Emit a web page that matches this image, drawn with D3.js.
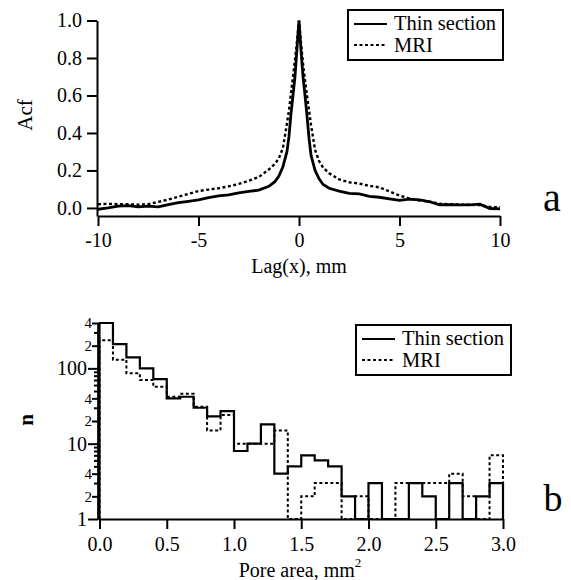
<!DOCTYPE html>
<html>
<head>
<meta charset="utf-8">
<script src="https://cdn.jsdelivr.net/npm/d3@7"></script>
<style>
  body { margin: 0; background: #fff; }
  svg text { font-family: "Liberation Serif", "DejaVu Serif", serif !important; fill: #000; }
  .axis path, .axis line { stroke: #000; stroke-width: 2; }
</style>
</head>
<body>
<script>
// ---- data ------------------------------------------------------------------
// panel a: autocorrelation vs lag (mm)
var lagX = [-10, -9.5, -9, -8.5, -8, -7.5, -7, -6.5, -6, -5.5, -5, -4.5, -4,
    -3.5, -3, -2.5, -2, -1.5, -1.2, -1, -0.8, -0.6, -0.5, -0.4, -0.3, -0.2,
    -0.1, 0, 0.1, 0.2, 0.3, 0.4, 0.5, 0.6, 0.8, 1, 1.2, 1.5, 2, 2.5, 3, 3.5,
    4, 4.5, 5, 5.5, 6, 6.5, 7, 7.5, 8, 8.5, 9, 9.5, 10];
var thinAcf = [-0.007, 0.0, 0.01, 0.012, 0.006, 0.01, 0.006, 0.018, 0.028,
    0.035, 0.043, 0.055, 0.064, 0.07, 0.08, 0.088, 0.095, 0.115, 0.14, 0.17,
    0.22, 0.3, 0.38, 0.5, 0.6, 0.7, 0.85, 1.0, 0.84, 0.7, 0.6, 0.49, 0.37,
    0.28, 0.2, 0.155, 0.125, 0.105, 0.09, 0.078, 0.075, 0.062, 0.057, 0.048,
    0.04, 0.047, 0.043, 0.033, 0.017, 0.018, 0.016, 0.016, 0.02, -0.003,
    -0.005];
var mriAcf = [0.02, 0.022, 0.02, 0.02, 0.017, 0.02, 0.032, 0.045, 0.06, 0.075,
    0.09, 0.098, 0.105, 0.115, 0.128, 0.145, 0.165, 0.205, 0.235, 0.265, 0.32,
    0.45, 0.52, 0.61, 0.7, 0.79, 0.89, 1.0, 0.88, 0.77, 0.68, 0.6, 0.52, 0.44,
    0.31, 0.25, 0.215, 0.185, 0.152, 0.137, 0.13, 0.118, 0.11, 0.088, 0.066,
    0.05, 0.04, 0.034, 0.022, 0.02, 0.018, 0.017, 0.015, 0.005, 0.004];
var acfTicks = [0, 0.2, 0.4, 0.6, 0.8, 1.0];
var lagTicks = [-10, -5, 0, 5, 10];

// panel b: pore-area histogram, bins of 0.1 mm^2 (left edges)
var binWidth = 0.1;
var poreArea = [0.0, 0.1, 0.2, 0.3, 0.4, 0.5, 0.6, 0.7, 0.8, 0.9, 1.0, 1.1,
    1.2, 1.3, 1.4, 1.5, 1.6, 1.7, 1.8, 1.9, 2.0, 2.1, 2.2, 2.3, 2.4, 2.5, 2.6,
    2.7, 2.8, 2.9];
var thinCount = [400, 210, 140, 100, 72, 40, 42, 30, 23, 27, 8, 10, 18, 4, 5,
    7, 6, 5, 2, 1, 3, 1, 1, 3, 2, 1, 3, 1, 2, 3];
var mriCount = [236, 130, 86, 70, 57, 42, 46, 31, 15, 24, 10, 10, 10, 15, 1,
    2, 3, 3, 1, 2, 1, 1, 3, 3, 3, 3, 4, 2, 1, 7];
var areaTicks = [0, 0.5, 1.0, 1.5, 2.0, 2.5, 3.0];
var nMajor = [1, 10, 100];
var nLabelled = [2, 4, 20, 40, 200, 400];
var nMinor = [3, 5, 6, 7, 8, 9, 30, 50, 60, 70, 80, 90, 300];

var seriesNames = ["Thin section", "MRI"];

// ---- drawing -----------------------------------------------------------------
var W = 571, H = 580;
var serif = "Liberation Serif";
var svg = d3.select("body").append("svg")
    .attr("width", W)
    .attr("height", H)
    .attr("font-family", serif);

// dash pattern for the MRI curves
var dash = "3,2.5";

// legend box helper
function legend(x, y) {
    var g = svg.append("g").attr("transform", "translate(" + x + "," + y + ")");
    g.append("rect")
        .attr("width", 155).attr("height", 50)
        .attr("fill", "#fff").attr("stroke", "#000").attr("stroke-width", 2);
    seriesNames.forEach(function(name, i) {
        g.append("line")
            .attr("x1", 6).attr("x2", 39)
            .attr("y1", 14 + i * 21).attr("y2", 14 + i * 21)
            .attr("stroke", "#000").attr("stroke-width", 2.2)
            .attr("stroke-dasharray", i === 1 ? dash : null);
        g.append("text")
            .attr("x", 46).attr("y", 20 + i * 22)
            .attr("font-size", "20.5px")
            .text(name);
    });
}

// ---------------- panel a ----------------
var xA = d3.scaleLinear().domain([-10, 10]).range([98, 500]);
var yA = d3.scaleLinear().domain([-0.043, 1.0]).range([216, 20.5]);

var lineA = d3.line()
    .x(function(d) { return xA(d[0]); })
    .y(function(d) { return yA(d[1]); });

svg.append("path")
    .datum(d3.zip(lagX, mriAcf))
    .attr("d", lineA)
    .attr("fill", "none")
    .attr("stroke", "#000")
    .attr("stroke-width", 2.4)
    .attr("stroke-dasharray", dash);

svg.append("path")
    .datum(d3.zip(lagX, thinAcf))
    .attr("d", lineA)
    .attr("fill", "none")
    .attr("stroke", "#000")
    .attr("stroke-width", 2.8);

svg.append("g")
    .attr("class", "axis")
    .attr("transform", "translate(0,216)")
    .call(d3.axisBottom(xA).tickValues(lagTicks).tickSize(10)
        .tickSizeOuter(0).tickPadding(7).tickFormat(function(d) { return d; }))
    .attr("font-family", serif)
    .selectAll("text").attr("font-size", "20px");

svg.append("g")
    .attr("class", "axis")
    .attr("transform", "translate(97,0)")
    .call(d3.axisLeft(yA).tickValues(acfTicks).tickSize(10)
        .tickSizeOuter(0).tickPadding(5).tickFormat(d3.format(".1f")))
    .attr("font-family", serif)
    .selectAll("text").attr("font-size", "20px");

svg.append("text")
    .attr("transform", "translate(32,115) rotate(-90)")
    .attr("text-anchor", "middle")
    .attr("font-size", "21px")
    .text("Acf");

svg.append("text")
    .attr("x", 299).attr("y", 273)
    .attr("text-anchor", "middle")
    .attr("font-size", "20px")
    .text("Lag(x), mm");

svg.append("text")
    .attr("x", 552).attr("y", 211)
    .attr("text-anchor", "middle")
    .attr("font-size", "40px")
    .text("a");

legend(348, 10);

// ---------------- panel b ----------------
var xB = d3.scaleLinear().domain([0, 3]).range([99.5, 503]);
var yB = d3.scaleLog().domain([1, 400]).range([519, 323]);

function steps(counts) {
    var pts = [[0, 1]];
    poreArea.forEach(function(a, i) { pts.push([a, counts[i]]); });
    var last = counts[counts.length - 1];
    var end = poreArea[poreArea.length - 1] + binWidth;
    pts.push([end, last], [end, 1]);
    return pts;
}

var lineB = d3.line()
    .curve(d3.curveStepAfter)
    .x(function(d) { return xB(d[0]); })
    .y(function(d) { return yB(d[1]); });

svg.append("path")
    .datum(steps(mriCount))
    .attr("d", lineB)
    .attr("fill", "none")
    .attr("stroke", "#000")
    .attr("stroke-width", 2)
    .attr("stroke-dasharray", dash);

svg.append("path")
    .datum(steps(thinCount))
    .attr("d", lineB)
    .attr("fill", "none")
    .attr("stroke", "#000")
    .attr("stroke-width", 2.2);

svg.append("g")
    .attr("class", "axis")
    .attr("transform", "translate(0,519)")
    .call(d3.axisBottom(xB).tickValues(areaTicks).tickSize(10)
        .tickSizeOuter(0).tickPadding(8).tickFormat(d3.format(".1f")))
    .attr("font-family", serif)
    .selectAll("text").attr("font-size", "20px");

// log axis: minor unlabelled, minor labelled, then major
svg.append("g")
    .attr("class", "axis")
    .attr("transform", "translate(98,0)")
    .call(d3.axisLeft(yB).tickValues(nMinor).tickSize(4)
        .tickSizeOuter(0).tickFormat(""));

svg.append("g")
    .attr("class", "axis")
    .attr("transform", "translate(98,0)")
    .call(d3.axisLeft(yB).tickValues(nLabelled).tickSize(6)
        .tickSizeOuter(0).tickPadding(0)
        .tickFormat(function(d) { return String(d)[0]; }))
    .attr("font-family", serif)
    .selectAll("text").attr("font-size", "15px");

svg.append("g")
    .attr("class", "axis")
    .attr("transform", "translate(98,0)")
    .call(d3.axisLeft(yB).tickValues(nMajor).tickSize(10)
        .tickSizeOuter(0).tickPadding(1).tickFormat(d3.format("d")))
    .attr("font-family", serif)
    .selectAll("text").attr("font-size", "20px");

svg.append("text")
    .attr("transform", "translate(33,420) rotate(-90)")
    .attr("text-anchor", "middle")
    .attr("font-size", "21px")
    .attr("font-weight", "bold")
    .text("n");

var lbl = svg.append("text")
    .attr("x", 300).attr("y", 577)
    .attr("text-anchor", "middle")
    .attr("font-size", "20px");
lbl.append("tspan").text("Pore area, mm");
lbl.append("tspan").attr("dy", -10).attr("font-size", "13px").text("2");

svg.append("text")
    .attr("x", 553).attr("y", 511)
    .attr("text-anchor", "middle")
    .attr("font-size", "38px")
    .text("b");

legend(356, 325);
</script>
</body>
</html>
